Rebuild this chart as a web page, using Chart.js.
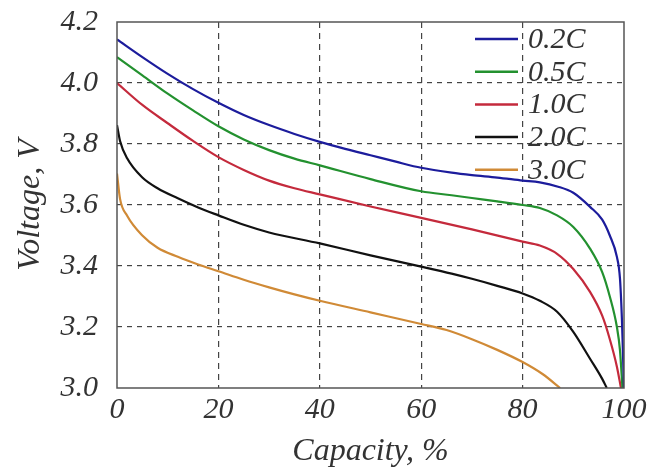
<!DOCTYPE html>
<html>
<head>
<meta charset="utf-8">
<script src="https://cdn.jsdelivr.net/npm/chart.js@4.4.0/dist/chart.umd.min.js"></script>
<style>
  html, body { margin: 0; padding: 0; background: #fff; }
  #wrap { width: 647px; height: 468px; }
</style>
</head>
<body>
<div id="wrap"><canvas id="discharge-chart"></canvas></div>
<script>
// discharge curves (capacity %, voltage V)
const labels = ['0.2C', '0.5C', '1.0C', '2.0C', '3.0C'];
const colors = ['#1c1c9c', '#23912f', '#c42a3c', '#111111', '#d08a36'];

const cap02 = [0, 5, 10, 15, 20, 25, 30, 35, 40, 45, 50, 55, 60, 66, 70, 75, 80, 83.4, 87, 90, 93.3, 95.7, 97.2, 98.6, 99.2, 99.6, 99.8, 100];
const volt02 = [4.143, 4.085, 4.03, 3.98, 3.935, 3.895, 3.862, 3.833, 3.807, 3.784, 3.763, 3.742, 3.722, 3.706, 3.698, 3.69, 3.68, 3.674, 3.66, 3.64, 3.594, 3.552, 3.50, 3.43, 3.36, 3.22, 3.11, 3.0];

const cap05 = [0, 5, 10, 15, 20, 25, 30, 35, 40, 50, 60, 66, 70, 75, 80, 83.4, 86.8, 90, 93.3, 95.7, 97.2, 98.6, 99.2, 99.7];
const volt05 = [4.085, 4.025, 3.965, 3.91, 3.858, 3.815, 3.78, 3.752, 3.73, 3.685, 3.645, 3.632, 3.623, 3.612, 3.60, 3.59, 3.566, 3.528, 3.457, 3.38, 3.30, 3.20, 3.125, 3.0];

const cap10 = [0, 5, 10, 15, 20, 25, 30, 35, 40, 50, 60, 70, 80, 83.4, 86.8, 90, 93.3, 95.7, 97.2, 98.6, 99.4];
const volt10 = [4.0, 3.928, 3.868, 3.81, 3.757, 3.715, 3.68, 3.655, 3.635, 3.595, 3.558, 3.52, 3.48, 3.467, 3.44, 3.39, 3.315, 3.237, 3.16, 3.07, 3.0];

const cap20 = [0, 0.6, 2, 5, 8, 12, 16, 20, 25, 30, 40, 50, 60, 66, 70, 75, 80, 83.4, 86.8, 90, 93.3, 95.7, 96.6];
const volt20 = [3.862, 3.81, 3.753, 3.69, 3.655, 3.622, 3.592, 3.566, 3.535, 3.51, 3.474, 3.435, 3.398, 3.375, 3.358, 3.335, 3.31, 3.286, 3.25, 3.184, 3.096, 3.03, 3.0];

const cap30 = [0, 0.6, 2, 5, 8, 12, 16, 20, 25, 30, 35, 40, 50, 60, 65, 70, 75, 80, 84, 87.4];
const volt30 = [3.703, 3.62, 3.565, 3.50, 3.46, 3.43, 3.405, 3.383, 3.355, 3.33, 3.307, 3.286, 3.248, 3.21, 3.19, 3.16, 3.125, 3.085, 3.045, 3.0];

const capacities = [cap02, cap05, cap10, cap20, cap30];
const voltages = [volt02, volt05, volt10, volt20, volt30];

const xTicks = [0, 20, 40, 60, 80, 100];
const yTicks = [3.0, 3.2, 3.4, 3.6, 3.8, 4.0, 4.2];

const serif = '"Liberation Serif", "DejaVu Serif", serif';

const datasets = labels.map((label, i) => ({
    label: label,
    data: capacities[i].map((c, j) => ({ x: c, y: voltages[i][j] })),
    borderColor: colors[i],
    backgroundColor: colors[i],
    borderWidth: 2.2,
    pointRadius: 0,
    cubicInterpolationMode: 'monotone',
    fill: false
}));

// frame round the plot and the legend inside the top right corner
const framePlugin = {
    id: 'frameAndLegend',
    afterDraw(chart) {
        const { ctx, chartArea: a } = chart;
        ctx.save();
        ctx.strokeStyle = '#555';
        ctx.lineWidth = 1.5;
        ctx.strokeRect(a.left, a.top, a.right - a.left, a.bottom - a.top);

        ctx.font = 'italic 30px ' + serif;
        ctx.textBaseline = 'middle';
        ctx.textAlign = 'left';
        chart.data.datasets.forEach((ds, i) => {
            const y = 39 + i * 32.7;
            ctx.strokeStyle = ds.borderColor;
            ctx.lineWidth = 2.5;
            ctx.beginPath();
            ctx.moveTo(475, y);
            ctx.lineTo(518, y);
            ctx.stroke();
            ctx.fillStyle = '#333';
            ctx.fillText(ds.label, 528, y + 1);
        });
        ctx.restore();
    }
};

const gridColor = (ctx, lo, hi) => {
    const v = ctx.tick ? ctx.tick.value : null;
    if (v === null || Math.abs(v - lo) < 1e-6 || Math.abs(v - hi) < 1e-6) return 'rgba(0,0,0,0)';
    return '#444';
};

const chart = new Chart(document.getElementById('discharge-chart').getContext('2d'), {
    type: 'line',
    data: { datasets },
    options: {
        responsive: true,
        maintainAspectRatio: false,
        animation: false,
        layout: { padding: { top: 22, right: 23, left: 0, bottom: 0 } },
        plugins: {
            legend: { display: false },
            tooltip: { enabled: false }
        },
        scales: {
            x: {
                type: 'linear',
                min: 0,
                max: 100,
                afterBuildTicks: s => { s.ticks = xTicks.map(v => ({ value: v })); },
                afterFit: s => { s.height = 80; s.paddingLeft = 0; s.paddingRight = 0; },
                grid: {
                    color: c => gridColor(c, 0, 100),
                    lineWidth: 1.2,
                    drawTicks: false
                },
                border: { display: false, dash: [6, 5] },
                ticks: {
                    padding: 4,
                    color: '#333',
                    font: { family: serif, size: 30, style: 'italic' },
                    maxRotation: 0
                },
                title: {
                    display: true,
                    text: 'Capacity, %',
                    color: '#333',
                    padding: 0,
                    font: { family: serif, size: 32, style: 'italic', lineHeight: 1 }
                }
            },
            y: {
                type: 'linear',
                min: 3.0,
                max: 4.2,
                afterBuildTicks: s => { s.ticks = yTicks.map(v => ({ value: v })); },
                afterFit: s => { s.width = 117; s.paddingTop = 0; s.paddingBottom = 0; },
                grid: {
                    color: c => gridColor(c, 3.0, 4.2),
                    lineWidth: 1.2,
                    drawTicks: false
                },
                border: { display: false, dash: [5, 5] },
                ticks: {
                    padding: 19,
                    color: '#333',
                    font: { family: serif, size: 30, style: 'italic' },
                    callback: v => v.toFixed(1)
                },
                title: {
                    display: true,
                    text: 'Voltage, V',
                    color: '#333',
                    padding: { top: 15, bottom: 0 },
                    font: { family: serif, size: 32, style: 'italic', lineHeight: 1 }
                }
            }
        }
    },
    plugins: [framePlugin]
});
</script>
</body>
</html>
